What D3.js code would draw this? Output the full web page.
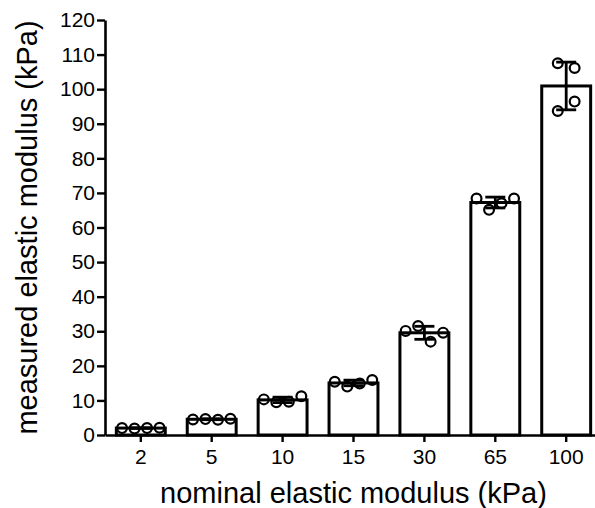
<!DOCTYPE html>
<html>
<head>
<meta charset="utf-8">
<script src="https://cdn.jsdelivr.net/npm/d3@7/dist/d3.min.js"></script>
<style>
  html, body { margin: 0; padding: 0; background: #fff; }
  svg { display: block; }
  text { font-family: "Liberation Sans", Arial, sans-serif; fill: #000; }
</style>
</head>
<body>
<svg id="chart" width="595" height="508"></svg>
<script>
// ---- data ----
const categories = ["2", "5", "10", "15", "30", "65", "100"];
// individual measurements per category, in left-to-right order as drawn
const values = [
  [2.0, 1.9, 2.0, 2.1],
  [4.5, 4.6, 4.4, 4.7],
  [10.3, 9.5, 9.6, 11.2],
  [15.4, 14.0, 14.9, 15.9],
  [30.1, 31.5, 27.0, 29.6],
  [68.4, 65.1, 67.0, 68.4],
  [107.5, 106.1, 93.7, 96.4]
];
const yTicks = [0, 10, 20, 30, 40, 50, 60, 70, 80, 90, 100, 110, 120];
const xTitle = "nominal elastic modulus (kPa)";
const yTitle = "measured elastic modulus (kPa)";

// ---- layout ----
const svg = d3.select("#chart");
const x0 = 105, x1 = 602, yTop = 20, yBottom = 435;

const x = d3.scaleBand().domain(categories).range([x0, x1])
  .paddingInner(0.31).paddingOuter(0.16);
const y = d3.scaleLinear().domain([0, 120]).range([yBottom, yTop]);

const groups = categories.map((c, i) => {
  const v = values[i];
  return { cat: c, vals: v, mean: d3.mean(v), sd: d3.deviation(v) };
});

// bars
svg.append("g").selectAll("rect").data(groups).join("rect")
  .attr("x", d => x(d.cat))
  .attr("y", d => y(d.mean))
  .attr("width", x.bandwidth())
  .attr("height", d => y(0) - y(d.mean))
  .attr("fill", "#fff")
  .attr("stroke", "#000")
  .attr("stroke-width", 3);

// error bars (mean ± SD)
const capHalf = 10;
const eg = svg.append("g").attr("stroke", "#000").attr("stroke-width", 2.8).attr("fill", "none");
groups.forEach(d => {
  const cx = x(d.cat) + x.bandwidth() / 2;
  const yHi = y(d.mean + d.sd), yLo = y(d.mean - d.sd);
  eg.append("line").attr("x1", cx).attr("x2", cx).attr("y1", yHi).attr("y2", yLo);
  eg.append("line").attr("x1", cx - capHalf).attr("x2", cx + capHalf).attr("y1", yHi).attr("y2", yHi);
  eg.append("line").attr("x1", cx - capHalf).attr("x2", cx + capHalf).attr("y1", yLo).attr("y2", yLo);
});

// scatter points, spread horizontally where they overlap vertically
const clusterGap = 10, spread = 12.5;
const pts = [];
groups.forEach(d => {
  const cx = x(d.cat) + x.bandwidth() / 2;
  const items = d.vals.map((v, k) => ({ v, k, py: y(v) }));
  const sorted = items.slice().sort((a, b) => a.py - b.py);
  const clusters = [];
  sorted.forEach((p, j) => {
    if (j === 0 || p.py - sorted[j - 1].py >= clusterGap) clusters.push([p]);
    else clusters[clusters.length - 1].push(p);
  });
  clusters.forEach(cl => {
    cl.sort((a, b) => a.k - b.k);
    const n = cl.length;
    const s = n === 2 ? spread * 1.35 : spread;
    cl.forEach((p, j) => pts.push({ px: cx + (j - (n - 1) / 2) * s, py: p.py }));
  });
});
svg.append("g").selectAll("circle").data(pts).join("circle")
  .attr("cx", d => d.px).attr("cy", d => d.py).attr("r", 4.9)
  .attr("fill", "none").attr("stroke", "#000").attr("stroke-width", 2.2);

// axes
const yAxis = svg.append("g").attr("transform", `translate(${x0},0)`)
  .call(d3.axisLeft(y).tickValues(yTicks).tickSize(8).tickSizeOuter(0).tickPadding(2));
const xAxis = svg.append("g").attr("transform", `translate(0,${yBottom})`)
  .call(d3.axisBottom(x).tickSize(7).tickSizeOuter(0).tickPadding(7));
[yAxis, xAxis].forEach(a => {
  a.select(".domain").attr("stroke", "#000").attr("stroke-width", 2.6);
  a.selectAll(".tick line").attr("stroke", "#000").attr("stroke-width", 2.4);
  a.selectAll(".tick text").attr("font-size", 21).attr("font-family", "Liberation Sans, Arial, sans-serif").attr("fill", "#000");
});

// titles
svg.append("text")
  .attr("x", (x0 + x1) / 2).attr("y", 503)
  .attr("text-anchor", "middle").attr("font-size", 29)
  .text(xTitle);
svg.append("text")
  .attr("transform", `translate(37,${(yTop + yBottom) / 2}) rotate(-90)`)
  .attr("text-anchor", "middle").attr("font-size", 29)
  .text(yTitle);
</script>
</body>
</html>
